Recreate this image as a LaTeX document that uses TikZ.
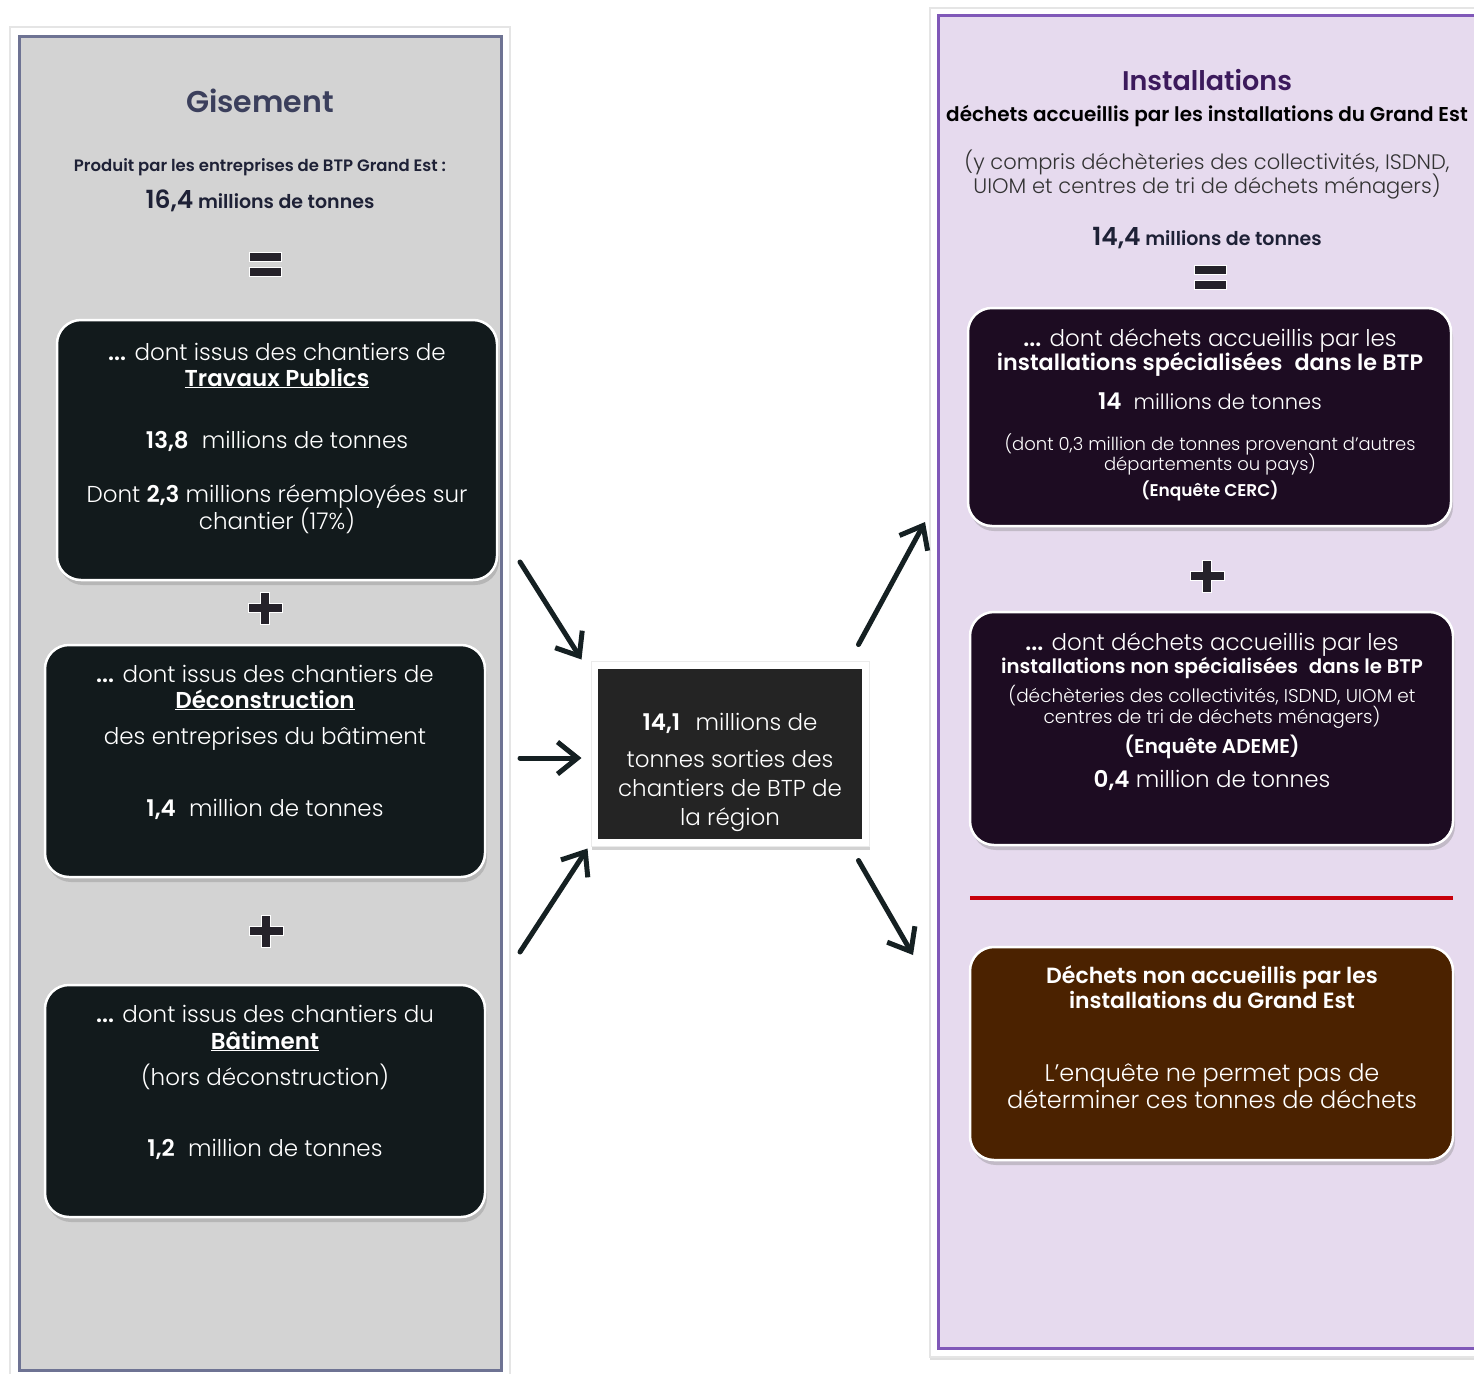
\documentclass[tikz,border=0pt]{standalone}
\usepackage{fontspec}
\setmainfont{Poppins}[UprightFont={* Light},BoldFont={* SemiBold}]
\usetikzlibrary{positioning,arrows.meta,calc,shadows}

\definecolor{gispanel}{HTML}{D3D3D3}
\definecolor{gisborder}{HTML}{6E7393}
\definecolor{gistitle}{HTML}{3B3F5C}
\definecolor{gistext}{HTML}{1E2136}
\definecolor{tealbox}{HTML}{121A1C}
\definecolor{signfill}{HTML}{25222A}
\definecolor{instpanel}{HTML}{E6DAEE}
\definecolor{instborder}{HTML}{8058B8}
\definecolor{insttitle}{HTML}{3C1A5C}
\definecolor{insttext}{HTML}{333333}
\definecolor{purplebox}{HTML}{1D0C22}
\definecolor{brownbox}{HTML}{4B2200}
\definecolor{centrebox}{HTML}{242424}
\definecolor{redline}{HTML}{C8000B}
\definecolor{arrowcol}{HTML}{152022}

\newcommand{\sz}[1]{\fontsize{#1}{#1}\selectfont}

\tikzset{
  equalsign/.pic={
    \filldraw[fill=signfill, draw=white, line width=1pt] (-16,-12) rectangle (16,-3) (-16,3) rectangle (16,12);
  },
  plussign/.pic={
    \filldraw[fill=signfill, draw=white, line width=1pt] (-4.5,-16) -- (4.5,-16) -- (4.5,-4.5) -- (17,-4.5) -- (17,4.5)
      -- (4.5,4.5) -- (4.5,16) -- (-4.5,16) -- (-4.5,4.5) -- (-17,4.5) -- (-17,-4.5) -- (-4.5,-4.5) -- cycle;
  }
}

\begin{document}
\begin{tikzpicture}[
    x=1pt, y=-1pt,
    frame/.style={fill=white, draw=black!10, line width=1.5pt,
      drop shadow={shadow xshift=0pt, shadow yshift=-3pt, opacity=0.25}},
    darkbox/.style={rectangle, rounded corners=24pt, draw=white, line width=2.5pt, inner sep=0pt,
      drop shadow={shadow xshift=2pt, shadow yshift=-5pt, opacity=0.35}},
    txt/.style={anchor=base, inner sep=0pt, text=white, font=\sz{23}},
    bold/.style={font=\sz{23}\bfseries},
    arrow/.style={-{Straight Barb[length=20pt,width=32pt]}, line width=5pt, draw=arrowcol, line cap=round}
]
\useasboundingbox[fill=white] (0,0) rectangle (1474,1373);

% Panels
\filldraw[frame] (10,27) rectangle (510,1390);
\draw[fill=gispanel, draw=gisborder, line width=3pt] (19,36) rectangle (501,1370);
\filldraw[frame] (930,8) rectangle (1490,1357);
\draw[fill=instpanel, draw=instborder, line width=3pt] (938,15) rectangle (1490,1348);

% Gisement
\node[txt, text=gistitle, font=\sz{30}\bfseries] (gistitle) at (260,112) {Gisement};
\node[txt, text=gistext, font=\sz{16.5}\bfseries] (gisprod) at (260,171) {Produit par les entreprises de BTP Grand Est :};
\node[txt, text=gistext, font=\sz{19}\bfseries] (gistotal) at (260,208) {{\sz{25}16,4} millions de tonnes};
\pic at (265,264) {equalsign};

\node[darkbox, fill=tealbox, minimum width=440pt, minimum height=260pt] (tp) at (277,450) {};
\node[txt] (tp1) at (277,360) {\textbf{...} dont issus des chantiers de};
\node[txt, bold] (tp2) at (277,386) {\underline{Travaux Publics}};
\node[txt] (tp3) at (277,448) {\textbf{13,8}\hspace{.3em} millions de tonnes};
\node[txt] (tp4) at (277,502) {Dont \textbf{2,3} millions réemployées sur};
\node[txt] (tp5) at (277,529) {chantier (17\%)};
\pic at (265,608) {plussign};

\node[darkbox, fill=tealbox, minimum width=440pt, minimum height=232pt] (dec) at (265,761) {};
\node[txt] (dec1) at (265,682) {\textbf{...} dont issus des chantiers de};
\node[txt, bold] (dec2) at (265,708) {\underline{Déconstruction}};
\node[txt] (dec3) at (265,744) {des entreprises du bâtiment};
\node[txt] (dec4) at (265,816) {\textbf{1,4}\hspace{.3em} million de tonnes};
\pic at (266,931) {plussign};

\node[darkbox, fill=tealbox, minimum width=440pt, minimum height=232pt] (bat) at (265,1101) {};
\node[txt] (bat1) at (265,1022) {\textbf{...} dont issus des chantiers du};
\node[txt, bold] (bat2) at (265,1049) {\underline{Bâtiment}};
\node[txt] (bat3) at (265,1085) {(hors déconstruction)};
\node[txt] (bat4) at (265,1156) {\textbf{1,2}\hspace{.3em} million de tonnes};

% Centre
\node[fill=white, draw=black!8, line width=1pt, minimum width=278pt, minimum height=185pt, inner sep=0pt,
  drop shadow={shadow xshift=1pt, shadow yshift=-4pt, opacity=0.35}] (centre) at (730,753.5) {};
\node[fill=centrebox, minimum width=264pt, minimum height=170pt, inner sep=0pt] (centrefill) at (centre.center) {};
\node[txt] (c1) at (730,730) {\textbf{14,1}\hspace{.4em} millions de};
\node[txt] (c2) at (730,767) {tonnes sorties des};
\node[txt] (c3) at (730,796) {chantiers de BTP de};
\node[txt] (c4) at (730,825) {la région};

% Installations
\node[txt, text=insttitle, font=\sz{27}\bfseries] (insttitle) at (1207,90) {Installations};
\node[txt, text=black, font=\sz{20}\bfseries] (instsub) at (1207,121) {déchets accueillis par les installations du Grand Est};
\node[txt, text=insttext, font=\sz{21}] (instinc1) at (1207,169) {(y compris déchèteries des collectivités, ISDND,};
\node[txt, text=insttext, font=\sz{21}] (instinc2) at (1207,193) {UIOM et centres de tri de déchets ménagers)};
\node[txt, text=gistext, font=\sz{19}\bfseries] (insttotal) at (1207,245) {{\sz{25}14,4} millions de tonnes};
\pic at (1210,277) {equalsign};

\node[darkbox, fill=purplebox, minimum width=483pt, minimum height=218pt] (spec) at (1209.5,417) {};
\node[txt] (spec1) at (1210,346) {\textbf{...} dont déchets accueillis par les};
\node[txt, font=\sz{22.3}\bfseries] (spec2) at (1210,370) {installations spécialisées\hspace{.3em} dans le BTP};
\node[txt, font=\sz{21}] (spec3) at (1210,409) {{\sz{23}\bfseries 14}\hspace{.3em} millions de tonnes};
\node[txt, font=\sz{18}] (spec4) at (1210,450) {(dont 0,3 million de tonnes provenant d’autres};
\node[txt, font=\sz{18}] (spec5) at (1210,470) {départements ou pays)};
\node[txt, font=\sz{17}\bfseries] (spec6) at (1210,496) {(Enquête CERC)};
\pic at (1207,576) {plussign};

\node[darkbox, fill=purplebox, minimum width=483pt, minimum height=233pt] (nonspec) at (1211.5,728.5) {};
\node[txt] (ns1) at (1212,650) {\textbf{...} dont déchets accueillis par les};
\node[txt, font=\sz{19.8}\bfseries] (ns2) at (1212,673) {installations non spécialisées\hspace{.3em} dans le BTP};
\node[txt, font=\sz{18.5}] (ns3) at (1212,702) {(déchèteries des collectivités, ISDND, UIOM et};
\node[txt, font=\sz{18.5}] (ns4) at (1212,723) {centres de tri de déchets ménagers)};
\node[txt, font=\sz{20}\bfseries] (ns5) at (1212,753) {(Enquête ADEME)};
\node[txt] (ns6) at (1212,787) {\textbf{0,4} million de tonnes};

\draw[redline, line width=4pt] (970,898) -- (1453,898);

\node[darkbox, fill=brownbox, minimum width=483pt, minimum height=213pt] (nonacc) at (1211.5,1053.5) {};
\node[txt, font=\sz{22}\bfseries] (na1) at (1212,983) {Déchets non accueillis par les};
\node[txt, font=\sz{22}\bfseries] (na2) at (1212,1008) {installations du Grand Est};
\node[txt, font=\sz{24}] (na3) at (1212,1081) {L’enquête ne permet pas de};
\node[txt, font=\sz{24}] (na4) at (1212,1108) {déterminer ces tonnes de déchets};

% Arrows
\coordinate (in1) at (520,562);
\coordinate (in2) at (520,758);
\coordinate (in3) at (520,952);
\coordinate (out1) at (925,522);
\coordinate (out2) at (913,955);
\draw[arrow] (in1) -- ($(centre.north west)+(-9,-1)$);
\draw[arrow] (in2) -- ($(centre.west)+(-9,4.5)$);
\draw[arrow] (in3) -- ($(centre.south west)+(-3,2)$);
\draw[arrow] ($(centre.north east)+(-11,-16)$) -- (out1);
\draw[arrow] ($(centre.south east)+(-11,14)$) -- (out2);

\end{tikzpicture}
\end{document}
